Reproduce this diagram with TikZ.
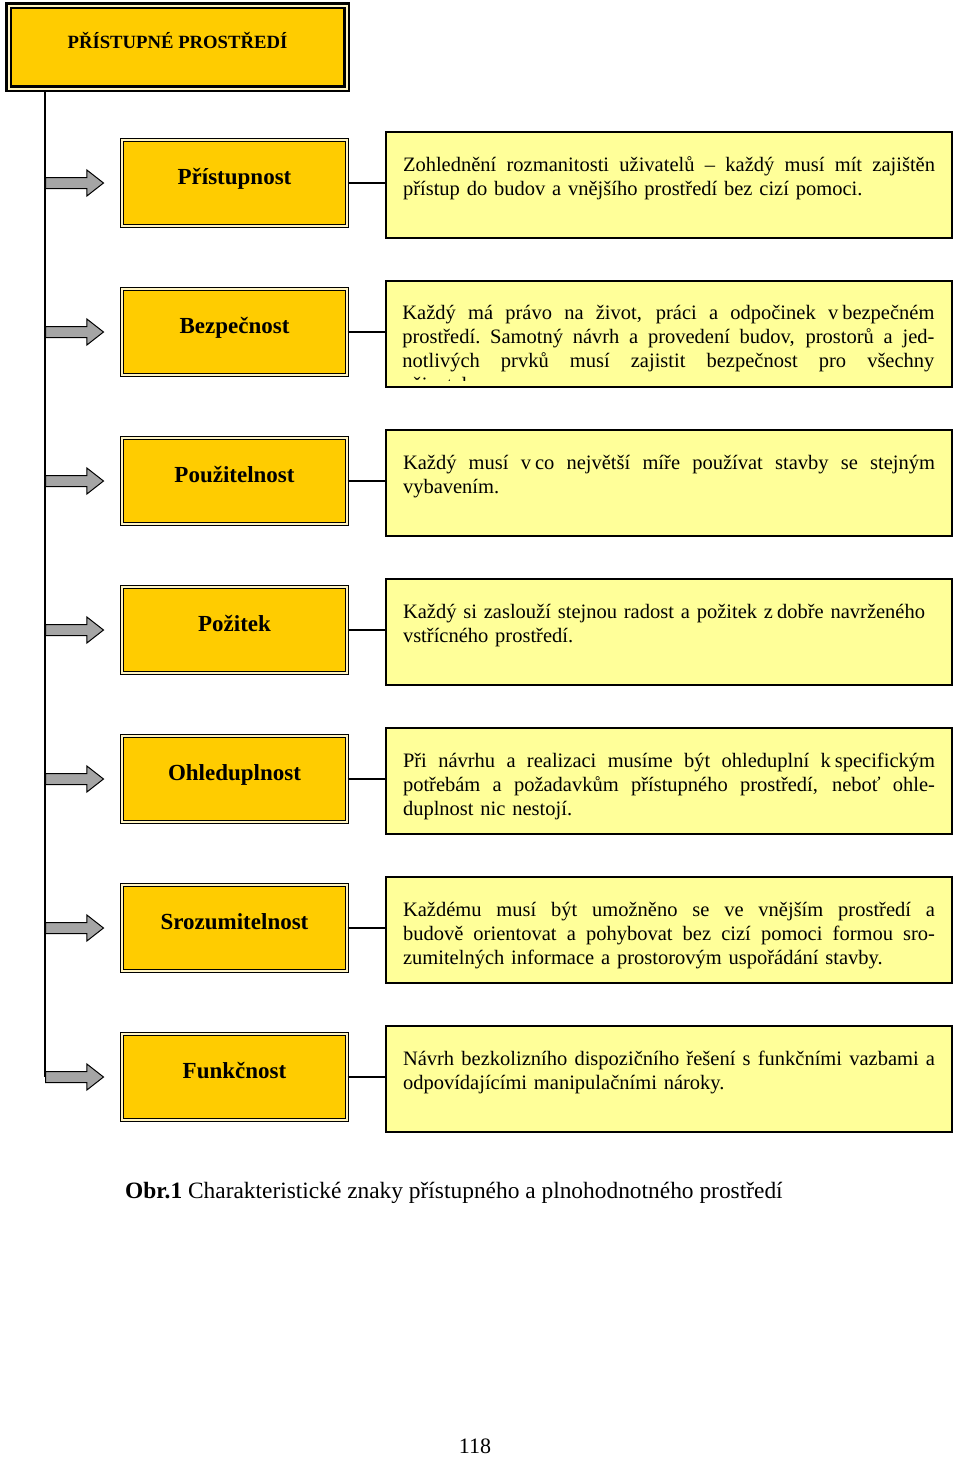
\documentclass[tikz,border=0pt]{standalone}
\usepackage{fontspec}
\setmainfont{Liberation Serif}
\usetikzlibrary{shapes.arrows}
\definecolor{gold}{HTML}{FFCC00}
\definecolor{paleyellow}{HTML}{FFFF99}
\definecolor{cream}{HTML}{FFF4C2}
\definecolor{arrgray}{HTML}{A5A5A5}
% full (justified) line and a fixed narrow space
\newcommand\jl[1]{\leavevmode\hbox to 532pt{\spaceskip=0.25em plus 1fil\xspaceskip=\spaceskip #1}}
\newcommand\ns{\hspace{4pt}}

\begin{document}
\begin{tikzpicture}[x=1pt,y=-1pt,
  head/.style={draw=black,line width=2.2pt,double=cream,double distance=2pt,fill=gold,
    minimum width=338pt,minimum height=83pt,text height=9pt,text depth=7pt,
    font=\fontsize{18.7}{22}\selectfont\bfseries},
  lbox/.style={draw=black,line width=1.2pt,double=cream,double distance=1.6pt,fill=gold,
    minimum width=225pt,minimum height=86pt,text height=10pt,text depth=8pt,
    font=\fontsize{23}{26}\selectfont\bfseries},
  rbox/.style={draw=black,line width=1.6pt,fill=paleyellow,text width=532pt,
    inner xsep=17pt,inner ysep=0pt,text height=39pt,text depth=67pt,
    font=\fontsize{20.5}{24}\selectfont},
  rtext/.style={text width=532pt,inner xsep=17pt,inner ysep=0pt,text height=39pt,
    font=\fontsize{20.5}{24}\selectfont},
  arr/.style={single arrow,draw=black,line width=1pt,fill=arrgray,minimum height=58pt,
    inner sep=5pt,single arrow head extend=7.5pt,single arrow tip angle=76,anchor=west},
  link/.style={line width=1.3pt}]
  \useasboundingbox (0,0) rectangle (960,1457);

  \node[head] (top) at (177.5,47) {PŘÍSTUPNÉ PROSTŘEDÍ};
  \coordinate (sp) at (45,92);

  % left column
  \node[lbox] (lb1) at (234.5,183) {Přístupnost};
  \node[lbox] (lb2) at (234.5,332) {Bezpečnost};
  \node[lbox] (lb3) at (234.5,481) {Použitelnost};
  \node[lbox] (lb4) at (234.5,630) {Požitek};
  \node[lbox] (lb5) at (234.5,779) {Ohleduplnost};
  \node[lbox] (lb6) at (234.5,928) {Srozumitelnost};
  \node[lbox] (lb7) at (234.5,1077) {Funkčnost};

  \node[arr] (ar1) at (45,183) {};
  \node[arr] (ar2) at (45,332) {};
  \node[arr] (ar3) at (45,481) {};
  \node[arr] (ar4) at (45,630) {};
  \node[arr] (ar5) at (45,779) {};
  \node[arr] (ar6) at (45,928) {};
  \node[arr] (ar7) at (45,1077) {};

  % right column
  \node[rbox] (rb1) at (669,185) {\jl{Zohlednění rozmanitosti uživatelů -- každý musí mít zajištěn}\\
    přístup do budov a vnějšího prostředí bez cizí pomoci.};
  \node[rbox] (rb2) at (669,334) {};
  \begin{scope}
    \clip (rb2.north west) rectangle ([yshift=7pt]rb2.south east);
    \node[rtext,anchor=north west] (tx2) at (rb2.north west) {\jl{Každý má právo na život, práci a odpočinek v\ns bezpečném}\\
      \jl{prostředí. Samotný návrh a provedení budov, prostorů a jed-}\\
      \jl{notlivých prvků musí zajistit bezpečnost pro všechny}\\
      uživatele.};
  \end{scope}
  \node[rbox] (rb3) at (669,483) {\jl{Každý musí v\ns co největší míře používat stavby se stejným}\\
    vybavením.};
  \node[rbox] (rb4) at (669,632) {Každý si zaslouží stejnou radost a požitek z\ns dobře navrženého\\
    vstřícného prostředí.};
  \node[rbox] (rb5) at (669,781) {\jl{Při návrhu a realizaci musíme být ohleduplní k\ns specifickým}\\
    \jl{potřebám a požadavkům přístupného prostředí, neboť ohle-}\\
    duplnost nic nestojí.};
  \node[rbox] (rb6) at (669,930) {\jl{Každému musí být umožněno se ve vnějším prostředí a}\\
    \jl{budově orientovat a pohybovat bez cizí pomoci formou sro-}\\
    zumitelných informace a prostorovým uspořádání stavby.};
  \node[rbox] (rb7) at (669,1079) {\jl{Návrh bezkolizního dispozičního řešení s funkčními vazbami a}\\
    odpovídajícími manipulačními nároky.};

  % connectors
  \draw[link] (sp) -- (sp |- ar7.west);
  \draw[link] (lb1.east) -- (lb1.east -| rb1.west);
  \draw[link] (lb2.east) -- (lb2.east -| rb2.west);
  \draw[link] (lb3.east) -- (lb3.east -| rb3.west);
  \draw[link] (lb4.east) -- (lb4.east -| rb4.west);
  \draw[link] (lb5.east) -- (lb5.east -| rb5.west);
  \draw[link] (lb6.east) -- (lb6.east -| rb6.west);
  \draw[link] (lb7.east) -- (lb7.east -| rb7.west);

  \node[anchor=base west,inner sep=0pt,font=\fontsize{23.4}{26}\selectfont] (cap) at (125,1198)
    {\textbf{Obr.1} Charakteristické znaky přístupného a plnohodnotného prostředí};
  \node[anchor=base,inner sep=0pt,font=\fontsize{22}{24}\selectfont] (pg) at (475,1453) {118};
\end{tikzpicture}
\end{document}
